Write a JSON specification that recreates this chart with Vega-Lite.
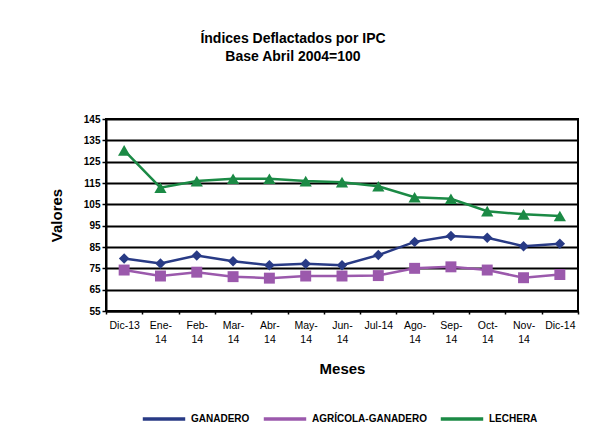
{
  "$schema": "https://vega.github.io/schema/vega-lite/v6.json",
  "width": 472,
  "height": 192,
  "autosize": "none",
  "padding": {"left": 106, "top": 119, "right": 32, "bottom": 130},
  "background": "#ffffff",
  "title": {
    "text": ["Índices Deflactados por IPC", "Base Abril 2004=100"],
    "font": "Liberation Sans",
    "fontSize": 14,
    "fontWeight": "bold",
    "color": "#000000",
    "anchor": "middle",
    "dx": -49,
    "offset": 50,
    "lineHeight": 18
  },
  "config": {
    "view": {"stroke": "#000000", "strokeWidth": 2},
    "font": "Liberation Sans",
    "style": {"guide-label": {"lineBreak": "\n"}}
  },
  "data": {
    "values": [
      {"mes": "Dic-13", "serie": "GANADERO", "valor": 79.6},
      {"mes": "Ene-14", "serie": "GANADERO", "valor": 77.3},
      {"mes": "Feb-14", "serie": "GANADERO", "valor": 81.0},
      {"mes": "Mar-14", "serie": "GANADERO", "valor": 78.3},
      {"mes": "Abr-14", "serie": "GANADERO", "valor": 76.5},
      {"mes": "May-14", "serie": "GANADERO", "valor": 77.1},
      {"mes": "Jun-14", "serie": "GANADERO", "valor": 76.5},
      {"mes": "Jul-14", "serie": "GANADERO", "valor": 81.2},
      {"mes": "Ago-14", "serie": "GANADERO", "valor": 87.4},
      {"mes": "Sep-14", "serie": "GANADERO", "valor": 90.2},
      {"mes": "Oct-14", "serie": "GANADERO", "valor": 89.3},
      {"mes": "Nov-14", "serie": "GANADERO", "valor": 85.4},
      {"mes": "Dic-14", "serie": "GANADERO", "valor": 86.5},
      {"mes": "Dic-13", "serie": "AGRÍCOLA-GANADERO", "valor": 74.2},
      {"mes": "Ene-14", "serie": "AGRÍCOLA-GANADERO", "valor": 71.4},
      {"mes": "Feb-14", "serie": "AGRÍCOLA-GANADERO", "valor": 73.2},
      {"mes": "Mar-14", "serie": "AGRÍCOLA-GANADERO", "valor": 71.1},
      {"mes": "Abr-14", "serie": "AGRÍCOLA-GANADERO", "valor": 70.4},
      {"mes": "May-14", "serie": "AGRÍCOLA-GANADERO", "valor": 71.4},
      {"mes": "Jun-14", "serie": "AGRÍCOLA-GANADERO", "valor": 71.4},
      {"mes": "Jul-14", "serie": "AGRÍCOLA-GANADERO", "valor": 71.6},
      {"mes": "Ago-14", "serie": "AGRÍCOLA-GANADERO", "valor": 75.0},
      {"mes": "Sep-14", "serie": "AGRÍCOLA-GANADERO", "valor": 75.7},
      {"mes": "Oct-14", "serie": "AGRÍCOLA-GANADERO", "valor": 74.2},
      {"mes": "Nov-14", "serie": "AGRÍCOLA-GANADERO", "valor": 70.6},
      {"mes": "Dic-14", "serie": "AGRÍCOLA-GANADERO", "valor": 72.1},
      {"mes": "Dic-13", "serie": "LECHERA", "valor": 130.3},
      {"mes": "Ene-14", "serie": "LECHERA", "valor": 112.8},
      {"mes": "Feb-14", "serie": "LECHERA", "valor": 115.9},
      {"mes": "Mar-14", "serie": "LECHERA", "valor": 117.0},
      {"mes": "Abr-14", "serie": "LECHERA", "valor": 117.0},
      {"mes": "May-14", "serie": "LECHERA", "valor": 115.9},
      {"mes": "Jun-14", "serie": "LECHERA", "valor": 115.4},
      {"mes": "Jul-14", "serie": "LECHERA", "valor": 113.5},
      {"mes": "Ago-14", "serie": "LECHERA", "valor": 108.3},
      {"mes": "Sep-14", "serie": "LECHERA", "valor": 107.6},
      {"mes": "Oct-14", "serie": "LECHERA", "valor": 101.8},
      {"mes": "Nov-14", "serie": "LECHERA", "valor": 100.3},
      {"mes": "Dic-14", "serie": "LECHERA", "valor": 99.5}
    ]
  },
  "encoding": {
    "x": {
      "field": "mes",
      "type": "ordinal",
      "sort": null,
      "scale": {"type": "band", "paddingInner": 0, "paddingOuter": 0},
      "axis": {
        "title": "Meses",
        "titleFont": "Liberation Sans",
        "titleFontSize": 15,
        "titleFontWeight": "bold",
        "titleColor": "#000000",
        "titlePadding": 17,
        "labelAngle": 0,
        "labelFont": "Liberation Sans",
        "labelFontSize": 10.5,
        "labelColor": "#000000",
        "labelPadding": 6,
        "labelExpr": "datum.value == null ? '' : (indexof(['Dic-13','Jul-14','Dic-14'], datum.value) >= 0 ? datum.value : replace(datum.value, '-', '-\\n'))",
        "labelLineHeight": 14,
        "tickBand": "extent",
        "tickColor": "#000000",
        "tickWidth": 1.5,
        "tickSize": 3,
        "domainColor": "#000000",
        "domainWidth": 2,
        "grid": false
      }
    },
    "y": {
      "field": "valor",
      "type": "quantitative",
      "scale": {"domain": [55, 145], "nice": false, "zero": false},
      "axis": {
        "title": "Valores",
        "titleFont": "Liberation Sans",
        "titleFontSize": 15,
        "titleFontWeight": "bold",
        "titleColor": "#000000",
        "titlePadding": 19,
        "values": [55, 65, 75, 85, 95, 105, 115, 125, 135, 145],
        "labelFont": "Liberation Sans",
        "labelFontSize": 10,
        "labelFontWeight": "bold",
        "labelColor": "#000000",
        "tickColor": "#000000",
        "tickSize": 4,
        "tickWidth": 1.5,
        "domainColor": "#000000",
        "domainWidth": 2,
        "grid": true,
        "gridColor": "#000000",
        "gridWidth": 2,
        "gridOpacity": 1
      }
    },
    "color": {
      "field": "serie",
      "type": "nominal",
      "sort": ["GANADERO", "AGRÍCOLA-GANADERO", "LECHERA"],
      "scale": {
        "domain": ["GANADERO", "AGRÍCOLA-GANADERO", "LECHERA"],
        "range": ["#283A85", "#9B59AC", "#1B8A45"]
      },
      "legend": {
        "title": null,
        "orient": "none",
        "direction": "horizontal",
        "legendX": 35,
        "legendY": 277,
        "symbolType": "stroke",
        "symbolSize": 1800,
        "symbolStrokeWidth": 3.5,
        "labelFont": "Liberation Sans",
        "labelFontSize": 10,
        "labelFontWeight": "bold",
        "labelColor": "#000000",
        "columnPadding": 6,
        "labelOffset": 4
      }
    }
  },
  "layer": [
    {
      "mark": {"type": "line", "strokeWidth": 2.5}
    },
    {
      "transform": [{"filter": "datum.serie === 'GANADERO'"}],
      "mark": {"type": "point", "shape": "diamond", "filled": true, "opacity": 1, "size": 110}
    },
    {
      "transform": [{"filter": "datum.serie === 'AGRÍCOLA-GANADERO'"}],
      "mark": {"type": "point", "shape": "square", "filled": true, "opacity": 1, "size": 120}
    },
    {
      "transform": [{"filter": "datum.serie === 'LECHERA'"}],
      "mark": {"type": "point", "shape": "triangle-up", "filled": true, "opacity": 1, "size": 150}
    }
  ]
}
